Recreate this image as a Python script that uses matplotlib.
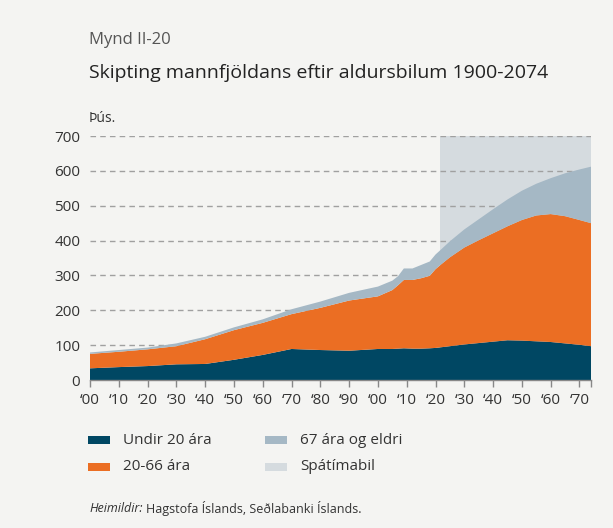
import matplotlib
matplotlib.use("Agg")
import matplotlib.pyplot as plt
from matplotlib.patches import Rectangle
import numpy as np

plt.rcParams['font.family'] = ['Open Sans', 'DejaVu Sans']

years = [1900, 1910, 1920, 1930, 1940, 1950, 1960, 1970, 1980, 1990, 2000,
         2005, 2007, 2009, 2012, 2015, 2018, 2020, 2022, 2025, 2030, 2035,
         2040, 2045, 2050, 2055, 2060, 2065, 2070, 2074]
# cumulative readings (thousands)
under20 = [33.5, 37, 40, 45, 46, 58, 72, 89, 86, 84, 89,
           89, 90, 91, 90, 90, 91, 92, 94, 97, 102, 106,
           110, 114, 113, 111, 109, 105, 101, 97]
top_20_66 = [75, 81, 88, 97, 117, 143, 164, 189, 207, 228, 240,
             258, 272, 287, 287, 292, 299, 318, 332, 352, 380, 401,
             421, 441, 459, 472, 476, 470, 459, 450]
top_67 = [79, 86, 93, 105, 124, 151, 174, 203, 225, 250, 268,
          285, 298, 320, 320, 330, 340, 360, 375, 398, 432, 461,
          490, 518, 543, 563, 579, 593, 604, 612]
age_20_66 = [t - u for t, u in zip(top_20_66, under20)]
age_67 = [t - m for t, m in zip(top_67, top_20_66)]

forecast_start = 2021.5
forecast_end = 2074
tick_years = list(range(1900, 2071, 10))
tick_labels = ["\u2018%02d" % (y % 100) for y in tick_years]
legend_labels = ["Undir 20 ára", "20-66 ára", "67 ára og eldri", "Spátímabil"]

c_navy = "#004763"
c_orange = "#EB6E23"
c_grey = "#A5B8C5"
c_shade = "#D5DBDF"
bg = "#F4F4F2"

W, H = 613, 528
fig = plt.figure(figsize=(W / 100, H / 100), dpi=100, facecolor=bg)
ax = fig.add_axes([90 / W, 1 - 380 / H, (591 - 90) / W, (380 - 136) / H])
ax.set_facecolor(bg)

ax.axvspan(forecast_start, forecast_end, ymin=0, ymax=1, color=c_shade, lw=0, zorder=0)
for v in range(100, 701, 100):
    ax.axhline(v, color="#a0a0a0", lw=1.0, ls=(0, (4, 3)), zorder=1)

ax.stackplot(years, under20, age_20_66, age_67,
             colors=[c_navy, c_orange, c_grey], lw=0, zorder=2)

ax.set_xlim(1900, 2074)
ax.set_ylim(0, 700)
ax.set_yticks(range(0, 701, 100))
ax.set_xticks(tick_years)
ax.set_xticklabels(tick_labels)
ax.set_xticks([2074], minor=True)
ax.tick_params(axis='x', which='both', length=5, color="#888888", width=1,
               labelsize=11, labelcolor="#333333", pad=4)
ax.tick_params(axis='y', length=0, labelsize=11, labelcolor="#333333", pad=7)
for s in ax.spines.values():
    s.set_visible(False)
ax.spines['bottom'].set_visible(True)
ax.spines['bottom'].set_color("#888888")
ax.spines['bottom'].set_linewidth(1)

fig.text(89 / W, 1 - 40 / H, "Mynd II-20", fontsize=12, color="#555555", va="center", ha="left")
fig.text(89 / W, 1 - 73 / H, "Skipting mannfjöldans eftir aldursbilum 1900-2074",
         fontsize=14, color="#222222", va="center", ha="left")
fig.text(89 / W, 1 - 118 / H, "Þús.", fontsize=10, color="#333333", va="center", ha="left")

# legend
leg = [(88, 440, c_navy, legend_labels[0]), (88, 467, c_orange, legend_labels[1]),
       (265, 440, c_grey, legend_labels[2]), (265, 467, c_shade, legend_labels[3])]
for x, y, c, lab in leg:
    fig.patches.append(Rectangle((x / W, 1 - (y + 4) / H), 22 / W, 8 / H,
                                 transform=fig.transFigure, color=c, lw=0))
    fig.text((x + 35) / W, 1 - y / H, lab, fontsize=11, color="#333333", va="center", ha="left")

t1 = fig.text(89 / W, 1 - 509 / H, "Heimildir:", fontsize=9, style="italic",
              color="#333333", va="center", ha="left")
fig.canvas.draw()
bb = t1.get_window_extent()
fig.text(bb.x1 / W + 3 / W, 1 - 509 / H, "Hagstofa Íslands, Seðlabanki Íslands.", fontsize=9,
         color="#333333", va="center", ha="left")

fig.savefig("out.png", dpi=100, facecolor=bg)
